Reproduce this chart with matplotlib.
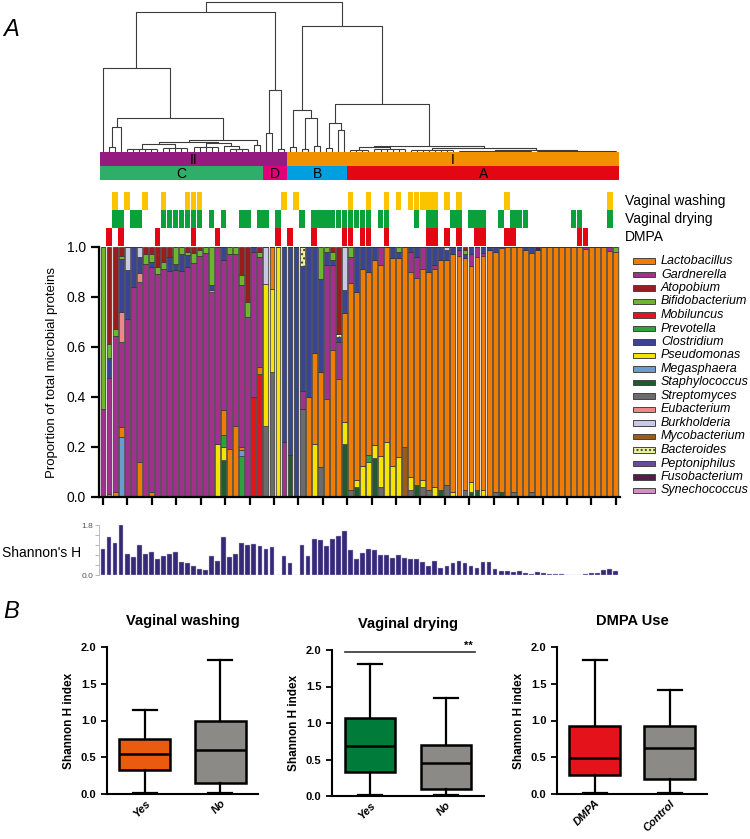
#!/usr/bin/env python3
import matplotlib
matplotlib.use("agg")
import matplotlib.pyplot as plt
from matplotlib.patches import Rectangle
import numpy as np

plt.rcParams['font.family'] = ['Liberation Sans', 'DejaVu Sans']

N = 86  # samples

# ---- stacked composition (proportion per sample), sparse by index ----
lactobacillus = [
    0, .013, .019, .04, 0, 0, .14, 0, .02, 0,
    0, 0, 0, 0, 0, 0, 0, 0, 0, 0,
    .1, .193, .286, .011, 0, 0, .027, 0, .167, 0,
    0, 0, 0, 0, .4, .365, .38, .394, .59, .473,
    .436, .827, .75, .789, .732, .739, .763, .78, .833, .797,
    .8, .82, .827, .843, .87, .873, .917, .897, .953, .966,
    .928, .866, .93, .933, .987, .96, .975, 1, .98, 1,
    .989, .956, .987, 1, 1, 1, 1, 1, 1, 1,
    .993, 1, 1, 1, .984, .98]
gardnerella = {0: .353, 1: .464, 2: .627, 3: .34, 4: .714, 5: .84, 6: .72, 7: .933,
               8: .9, 9: .893, 10: .913, 11: .904, 12: .909, 13: .904, 14: .92,
               15: .936, 16: .963, 17: .976, 18: .82, 19: .787, 20: .6, 21: .78,
               22: .687, 23: .647, 24: .72, 25: .58, 26: .44, 30: .22, 33: .073,
               37: .533, 38: .337, 39: .147, 41: .103, 46: .073, 51: .08, 52: .083,
               53: .087, 55: .017, 59: .023, 61: .047, 62: .04, 63: .013, 66: .005,
               80: .007, 84: .016}
atopobium = {1: .387, 2: .327, 3: .033, 7: .027, 8: .027, 9: .08, 10: .06, 11: .04,
             14: .02, 15: .024, 16: .013, 23: .113, 24: .22, 26: .02, 38: .02,
             39: .347, 60: .013}
bifidobacterium = {0: .647, 1: .056, 2: .027, 3: .013, 7: .04, 8: .033, 9: .027,
                   10: .027, 12: .067, 13: .027, 14: .013, 15: .04, 16: .024, 17: .024,
                   18: .153, 21: .027, 22: .027, 23: .04, 24: .06, 26: .02, 36: .127,
                   37: .02, 38: .033, 41: .04, 49: .02, 60: .013, 85: .02}
mobiluncus = {25: .4, 26: .493}
prevotella = {20: .047, 23: .166, 44: .028}
clostridium = {1: .08, 3: .213, 4: .193, 5: .16, 6: .064, 8: .02, 11: .056, 12: .024,
               13: .069, 14: .047, 18: .02, 20: .053, 25: .02, 30: .78, 31: .833,
               32: 1.0, 33: .5, 34: .6, 35: .424, 36: .373, 37: .053, 38: .02, 39: .02,
               40: .091, 42: .18, 43: .087, 44: .1, 45: .053, 48: .043, 49: .023,
               51: .02, 52: .04, 54: .1, 55: .07, 56: .053, 57: .04, 58: .027,
               59: .011, 60: .016, 61: .027, 63: .024, 64: .013, 65: .02, 70: .011,
               71: .024}
pseudomonas = {19: .213, 20: .053, 27: .567, 28: .333, 29: 1.0, 35: .211, 40: .087,
               42: .03, 43: .124, 44: .14, 45: .052, 46: .124, 47: .22, 48: .124,
               49: .16, 51: .05, 53: .03, 55: .04, 58: .02, 61: .04, 63: .03}
megasphaera = {3: .24, 23: .023}
staphylococcus = {20: .147, 31: .167, 40: .213, 42: .04, 45: .156, 52: .05, 56: .03,
                  61: .02, 62: .03, 66: .02}
streptomyces = {27: .286, 28: .5, 33: .353, 36: .12, 41: .03, 46: .04, 51: .03,
                53: .04, 54: .03, 57: .05, 60: .03, 65: .02, 68: .02, 71: .02}
eubacterium = {3: .12, 6: .036, 18: .007}
burkholderia = {4: .093, 6: .04, 27: .147, 40: .173, 57: .013}
mycobacterium = {50: .2}
bacteroides = {33: .073, 39: .013}
peptoniphilus = {}
fusobacterium = {72: .013}
synechococcus = {}

genera = ["Lactobacillus", "Gardnerella", "Atopobium", "Bifidobacterium", "Mobiluncus",
          "Prevotella", "Clostridium", "Pseudomonas", "Megasphaera", "Staphylococcus",
          "Streptomyces", "Eubacterium", "Burkholderia", "Mycobacterium", "Bacteroides",
          "Peptoniphilus", "Fusobacterium", "Synechococcus"]
genus_colors = ["#f07d00", "#a3308e", "#9a1c1f", "#6cb52d", "#e3141b", "#2fa23a",
                "#3a4494", "#f5e400", "#6c9bd2", "#1f5b2b", "#6b6b6b", "#ef8787",
                "#c9c9e6", "#9a5c16", "#eef2a0", "#6a4a9c", "#5a1a48", "#d68cc6"]
# drawing order from the bottom of each bar
stack_order = ["Streptomyces", "Staphylococcus", "Pseudomonas", "Prevotella",
               "Megasphaera", "Mobiluncus", "Mycobacterium", "Lactobacillus",
               "Gardnerella", "Eubacterium", "Clostridium", "Peptoniphilus",
               "Bacteroides", "Burkholderia", "Fusobacterium", "Synechococcus",
               "Bifidobacterium", "Atopobium"]

# ---- Shannon's H per sample ----
shannon = [
    0.93, 1.37, 1.16, 1.80, 0.77, 0.65, 1.07, 0.74, 0.84, 0.58,
    0.70, 0.77, 0.83, 0.46, 0.43, 0.34, 0.23, 0.19, 0.67, 0.50,
    1.37, 0.65, 0.77, 1.15, 1.07, 1.13, 1.04, 0.94, 1.01, 0.0,
    0.68, 0.44, 0.0, 1.09, 0.67, 1.28, 1.26, 1.04, 1.30, 1.40,
    1.58, 0.91, 0.59, 0.79, 0.95, 0.91, 0.71, 0.73, 0.62, 0.71,
    0.62, 0.59, 0.56, 0.46, 0.31, 0.49, 0.25, 0.31, 0.44, 0.50,
    0.44, 0.34, 0.25, 0.46, 0.46, 0.20, 0.16, 0.14, 0.10, 0.13,
    0.07, 0.05, 0.10, 0.08, 0.04, 0.04, 0.04, 0.01, 0.01, 0.01,
    0.05, 0.08, 0.08, 0.19, 0.22, 0.16]

# ---- covariates (sample indices flagged) ----
washing = [2, 4, 7, 10, 14, 15, 16, 30, 32, 41, 44, 47, 49, 51, 52, 53, 54, 55,
           57, 59, 67, 84]
drying = [2, 3, 5, 6, 10, 11, 12, 13, 14, 15, 16, 18, 20, 23, 24, 26, 27, 29, 33,
          35, 36, 37, 38, 39, 40, 41, 42, 43, 44, 46, 47, 52, 54, 55, 58, 59,
          61, 62, 63, 66, 68, 69, 70, 78, 79, 84]
dmpa = [1, 3, 9, 15, 19, 29, 31, 35, 40, 41, 43, 44, 47, 54, 55, 57, 59, 62, 63,
        67, 68, 79, 80]

# ---- clusters ----
groups = ["II", "I"]
group_sizes = [31, 55]
group_colors = ["#951b80", "#f29100"]
subtypes = ["C", "D", "B", "A"]
subtype_sizes = [27, 4, 10, 45]
subtype_colors = ["#2fae6a", "#e2007a", "#009fe0", "#e30613"]

# ---- dendrogram: (height, left, right); ('comb', height, first, last) ----
n_a = (25, (5, 1, 2), 3)
n_r1 = (10, (8, ('comb', 3, 4, 9), ('comb', 4, 10, 14)),
        (9, ('comb', 5, 15, 19), (6, 20, ('comb', 3, 21, 24))))
clu_C = (84, 0, (34, n_a, (12, n_r1, (7, 25, 26))))
clu_D = (62, (19, 27, 28), (3, 29, 30))
clu_B = (42, (5, 31, 32), (34, (3, 33, 34), (6, 35, 36)))
A_left = (29, (4, 37, 38), (22, 39, 40))
A_right = (6, (5, ('comb', 2, 41, 44), ('comb', 3, 45, 50)),
           (4, ('comb', 2.5, 51, 58), (2, ('comb', 1.5, 59, 71), ('comb', 1, 72, 85))))
tree = (150, (140, clu_C, clu_D), (126, clu_B, (48, A_left, A_right)))

# ---- box plots: Shannon H index ----
box_panels = ["Vaginal washing", "Vaginal drying", "DMPA Use"]
box_labels = [["Yes", "No"], ["Yes", "No"], ["DMPA", "Control"]]
box_low = [[0.01, 0.01], [0.01, 0.01], [0.01, 0.01]]
box_q1 = [[0.32, 0.145], [0.334, 0.095], [0.252, 0.198]]
box_med = [[0.54, 0.60], [0.68, 0.451], [0.491, 0.626]]
box_q3 = [[0.75, 1.0], [1.066, 0.704], [0.919, 0.928]]
box_high = [[1.145, 1.82], [1.815, 1.345], [1.82, 1.414]]
box_colors = [["#ea5a0f", "#8b8a86"], ["#007b3a", "#8b8a86"], ["#e3121b", "#8b8a86"]]

fig = plt.figure(figsize=(7.5, 8.39), dpi=100)


def px_axes(x0, y0, x1, y1):
    return fig.add_axes([x0 / 750, 1 - y1 / 839, (x1 - x0) / 750, (y1 - y0) / 839])


XLIM = (-0.67, 85.7)
x = np.arange(N)


def draw_node(ax, node):
    kw = dict(color="#3c3c3c", lw=0.8, clip_on=False, solid_capstyle="butt")
    if isinstance(node, int):
        return float(node), 0.0
    if node[0] == 'comb':
        _, h, a, b = node
        ax.plot([a, b], [h, h], **kw)
        for leaf in range(a, b + 1):
            ax.plot([leaf, leaf], [0, h], **kw)
        return (a + b) / 2, h
    h, left, right = node
    xl, hl = draw_node(ax, left)
    xr, hr = draw_node(ax, right)
    ax.plot([xl, xl, xr, xr], [hl, h, h, hr], **kw)
    return (xl + xr) / 2, h


# dendrogram
ax_d = px_axes(99, 2, 620, 152)
draw_node(ax_d, tree)
ax_d.set_xlim(XLIM)
ax_d.set_ylim(0, 150)
ax_d.axis("off")

# cluster bars
ax_c = px_axes(100, 152, 619, 180)
start = -0.5
for name, size, col in zip(groups, group_sizes, group_colors):
    ax_c.barh(0.5, size, left=start, height=1, color=col, lw=0)
    ax_c.text(start + size / 2, 0.55, name, ha="center", va="center", fontsize=10)
    start += size
start = -0.5
for name, size, col in zip(subtypes, subtype_sizes, subtype_colors):
    ax_c.barh(1.5, size, left=start, height=1, color=col, lw=0)
    ax_c.text(start + size / 2, 1.55, name, ha="center", va="center", fontsize=10)
    start += size
ax_c.set_xlim(-0.5, 85.5)
ax_c.set_ylim(2, 0)
ax_c.axis("off")

# covariate rows
ax_v = px_axes(99, 192, 620, 246)
for row, (flags, col) in enumerate([(washing, "#fbc300"), (drying, "#0aa13b"),
                                     (dmpa, "#e30613")]):
    ax_v.bar(flags, 1, bottom=row, width=0.92, color=col, lw=0)
ax_v.set_xlim(XLIM)
ax_v.set_ylim(3, 0)
ax_v.axis("off")
for yy, txt in [(201, "Vaginal washing"), (219, "Vaginal drying"), (237, "DMPA")]:
    fig.text(625 / 750, 1 - yy / 839, txt, fontsize=10, va="center")

# stacked bars
ax = px_axes(99, 247, 620, 497)
ax.set_facecolor("#dadada")
series = {}
for g in genera:
    src = globals()[g.lower()]
    if isinstance(src, dict):
        series[g] = np.array([src.get(i, 0.0) for i in range(N)])
    else:
        series[g] = np.array(src, dtype=float)
bottom = np.zeros(N)
for g in stack_order:
    vals = series[g]
    col = genus_colors[genera.index(g)]
    ax.bar(x, vals, bottom=bottom, width=0.8, color=col, edgecolor="#383838", lw=0.5,
           hatch="...." if g == "Bacteroides" else None)
    bottom += vals
ax.set_xlim(XLIM)
ax.set_ylim(0, 1.0)
ax.set_yticks(np.arange(0, 1.01, 0.2))
ax.set_yticklabels(["0.0", "0.2", "0.4", "0.6", "0.8", "1.0"], fontsize=10)
ax.set_xticks(np.linspace(0, 85, 22))
ax.set_xticklabels([])
ax.tick_params(length=6, width=1.6, direction="out")
for s in ["top", "right"]:
    ax.spines[s].set_visible(False)
for s in ["left", "bottom"]:
    ax.spines[s].set_linewidth(1.6)
ax.set_ylabel("Proportion of total microbial proteins", fontsize=9.5, labelpad=6)

# legend
ax_l = px_axes(628, 253, 750, 500)
ax_l.set_xlim(0, 122)
ax_l.set_ylim(247, 0)
ax_l.axis("off")
for k, (g, col) in enumerate(zip(genera, genus_colors)):
    yy = 8 + 13.5 * k
    ax_l.add_patch(Rectangle((5, yy - 2.6), 22, 5.2, facecolor=col, edgecolor="#444444",
                             lw=0.7, hatch="...." if g == "Bacteroides" else None))
    ax_l.text(33, yy, g, fontsize=9, style="italic", va="center")

# Shannon's H strip
ax_s = px_axes(99, 525, 620, 575)
ax_s.bar(x, shannon, width=0.78, color="#36297a", edgecolor="#bdb8d8", lw=0.3)
ax_s.set_xlim(XLIM)
ax_s.set_ylim(0, 1.8)
ax_s.set_yticks(np.linspace(0, 1.8, 6))
ax_s.set_yticklabels(["0.0", "", "", "", "", "1.8"], fontsize=6, color="#555555")
ax_s.set_xticks([])
ax_s.tick_params(axis="y", length=3, width=0.6, color="#aaaaaa", pad=1)
for s in ["top", "right", "bottom"]:
    ax_s.spines[s].set_visible(False)
ax_s.spines["left"].set_color("#bbbbbb")
ax_s.spines["left"].set_linewidth(0.7)
fig.text(2 / 750, 1 - 553 / 839, "Shannon's H", fontsize=10, va="center")

# panel letters
fig.text(3 / 750, 1 - 30 / 839, "A", fontsize=17, style="italic", va="center")
fig.text(3 / 750, 1 - 612 / 839, "B", fontsize=17, style="italic", va="center")

# box plots
box_rects = [(107, 647, 258, 794), (332, 650, 484, 796), (557, 647, 707, 794)]
for p, rect in enumerate(box_rects):
    bax = px_axes(*rect)
    stats = []
    for j in range(2):
        stats.append(dict(med=box_med[p][j], q1=box_q1[p][j], q3=box_q3[p][j],
                          whislo=box_low[p][j], whishi=box_high[p][j], fliers=[]))
    res = bax.bxp(stats, positions=[1, 2], widths=0.67, patch_artist=True,
                  showfliers=False,
                  boxprops=dict(lw=1.8, edgecolor="black"),
                  medianprops=dict(lw=1.8, color="black"),
                  whiskerprops=dict(lw=1.6, color="black"),
                  capprops=dict(lw=1.6, color="black"))
    for patch, col in zip(res["boxes"], box_colors[p]):
        patch.set_facecolor(col)
    for cap in res["caps"]:
        xd = cap.get_xdata()
        c = (xd[0] + xd[1]) / 2
        cap.set_xdata([c - 0.16, c + 0.16])
    bax.set_xlim(0.5, 2.5)
    bax.set_ylim(0, 2.0)
    bax.set_yticks([0, 0.5, 1.0, 1.5, 2.0])
    bax.set_yticklabels(["0.0", "0.5", "1.0", "1.5", "2.0"], fontsize=8,
                        fontweight="bold")
    bax.set_xticks([1, 2])
    bax.set_xticklabels(box_labels[p], rotation=45, ha="right", rotation_mode="anchor",
                        fontsize=8, fontweight="bold", style="italic")
    bax.tick_params(length=4, width=1.3)
    bax.tick_params(axis="x", length=0, pad=3)
    for s in ["top", "right"]:
        bax.spines[s].set_visible(False)
    for s in ["left", "bottom"]:
        bax.spines[s].set_linewidth(1.5)
    bax.set_ylabel("Shannon H index", fontsize=8.5, fontweight="bold", labelpad=4)
    bax.set_title(box_panels[p], fontsize=10.5, fontweight="bold", pad=16)
    if p == 1:
        bax.plot([0.675, 2.38], [1.97, 1.97], color="#333333", lw=1.2, clip_on=False)
        bax.text(2.3, 1.99, "**", ha="center", va="bottom", fontsize=8,
                 fontweight="bold")

fig.savefig("out.png", dpi=100)
